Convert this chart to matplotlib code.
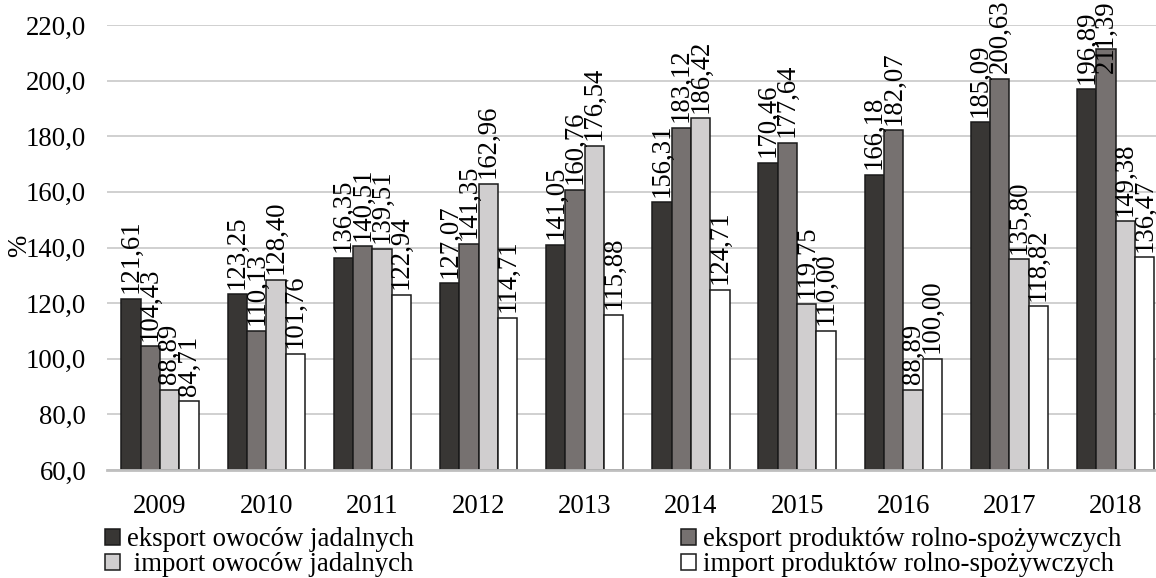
import numpy as np
import matplotlib
matplotlib.use("Agg")
import matplotlib.pyplot as plt
from matplotlib.ticker import FuncFormatter
from matplotlib.patches import Patch

plt.rcParams['font.family'] = ['Liberation Serif', 'DejaVu Serif']

years = ["2009", "2010", "2011", "2012", "2013", "2014", "2015", "2016", "2017", "2018"]
series_names = ["eksport owoców jadalnych", "eksport produktów rolno-spożywczych",
                " import owoców jadalnych", "import produktów rolno-spożywczych"]
eksport_owoce = [121.61, 123.25, 136.35, 127.07, 141.05, 156.31, 170.46, 166.18, 185.09, 196.89]
eksport_rolno = [104.43, 110.13, 140.51, 141.35, 160.76, 183.12, 177.64, 182.07, 200.63, 211.39]
import_owoce = [88.89, 128.40, 139.51, 162.96, 176.54, 186.42, 119.75, 88.89, 135.80, 149.38]
import_rolno = [84.71, 101.76, 122.94, 114.71, 115.88, 124.71, 110.00, 100.00, 118.82, 136.47]

colors = ["#383634", "#767170", "#d0cecf", "#ffffff"]
all_series = [eksport_owoce, eksport_rolno, import_owoce, import_rolno]

fs = 19.3
fig = plt.figure(figsize=(11.56, 5.78), dpi=100)
ax = fig.add_axes([107 / 1156, 108 / 578, 1 - 107 / 1156, 445 / 578])

x = np.arange(len(years))
w = 0.182
for i, (vals, col) in enumerate(zip(all_series, colors)):
    pos = x + (i - 1.5) * w
    ax.bar(pos, np.array(vals) - 60, bottom=60, width=w, color=col,
           edgecolor="#1a1a1a", linewidth=1.1, zorder=3, label=series_names[i])
    for px, v in zip(pos, vals):
        lab = f"{v:.2f}".replace(".", ",")
        if v > 205:
            # label would leave the plot, Excel pulls it back inside
            ax.text(px, 229, lab, rotation=90, ha="center", va="top",
                    fontsize=fs, zorder=4, clip_on=False)
        else:
            ax.annotate(lab, (px, v), xytext=(0, 4), textcoords="offset points",
                        rotation=90, ha="center", va="bottom", fontsize=fs,
                        zorder=4, annotation_clip=False)

ax.set_ylim(60, 220)
ax.set_xlim(-0.5, 9.38)
ax.set_yticks(np.arange(60, 221, 20))
ax.yaxis.set_major_formatter(FuncFormatter(lambda v, p: f"{v:.1f}".replace(".", ",")))
ax.set_xticks(x)
ax.set_xticklabels(years)
ax.tick_params(axis="both", length=0, labelsize=fs)
ax.tick_params(axis="y", pad=15)
ax.tick_params(axis="x", pad=17)
ax.grid(axis="y", color="#c8c8c8", linewidth=1.2, zorder=0)
for s in ["top", "right", "left"]:
    ax.spines[s].set_visible(False)
ax.spines["bottom"].set_color("#bfbfbf")
ax.spines["bottom"].set_linewidth(2)
ax.spines["bottom"].set_zorder(5)

fig.text(20 / 1156, 1 - 246 / 578, "%", rotation=90, ha="center", va="center", fontsize=fs)

handles = [Patch(facecolor=c, edgecolor="#1a1a1a", linewidth=1.1) for c in colors]
leg_kw = dict(frameon=False, fontsize=fs, handlelength=0.55, handleheight=0.55,
              handletextpad=0.25, labelspacing=0.0, borderpad=0, loc="upper left")
leg1 = fig.legend([handles[0], handles[2]], [series_names[0], series_names[2]],
                  bbox_to_anchor=(92 / 1156, 1 - 514 / 578), **leg_kw)
leg2 = fig.legend([handles[1], handles[3]], [series_names[1], series_names[3]],
                  bbox_to_anchor=(668 / 1156, 1 - 514 / 578), **leg_kw)

fig.savefig("out.png", dpi=100)
